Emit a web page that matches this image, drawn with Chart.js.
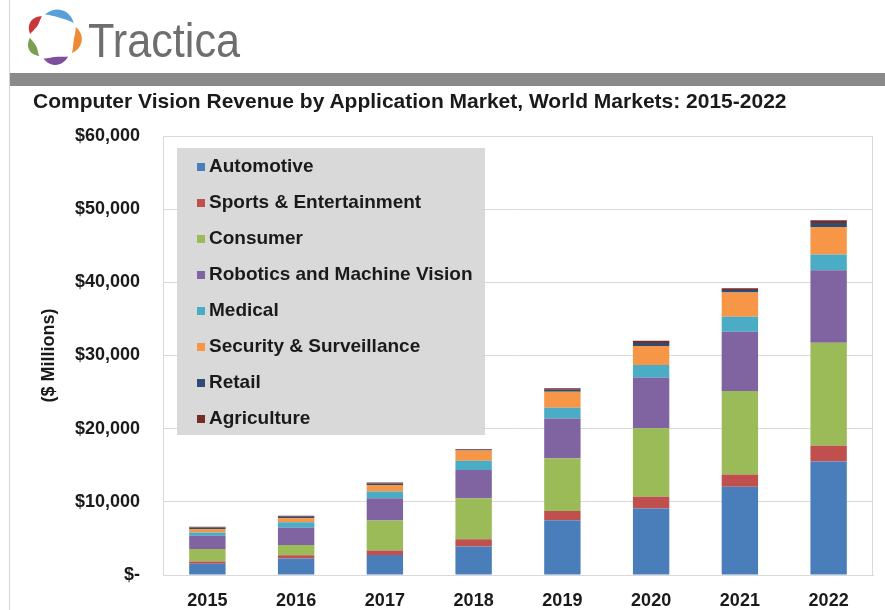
<!DOCTYPE html>
<html>
<head>
<meta charset="utf-8">
<script src="https://cdn.jsdelivr.net/npm/chart.js@4.4.1/dist/chart.umd.min.js"></script>
<style>
	html, body { margin: 0; padding: 0; background: #fff; }
	#page { position: relative; width: 885px; height: 610px; overflow: hidden; font-family: "Liberation Sans", Arial, sans-serif; }
	#edge { position: absolute; left: 9px; top: 0; width: 1px; height: 610px; background: #d4d4d4; }
	#band { position: absolute; left: 10px; top: 73px; width: 875px; height: 13px; background: #8a8a8a; }
	#brand { position: absolute; left: 88px; top: 13px; font-size: 48px; color: #6e6e6e; transform: scaleX(0.9); transform-origin: left top; }
	#logo { position: absolute; left: 0; top: 0; }
	#heading { position: absolute; left: 33px; top: 89px; font-size: 21px; font-weight: bold; color: #1a1a1a; white-space: nowrap; }
	#ChartVisionRevenue { position: absolute; left: 0; top: 0; }
</style>
</head>
<body>
<div id="page">
	<canvas id="ChartVisionRevenue" width="885" height="610"></canvas>
	<div id="edge"></div>
	<div id="band"></div>
	<svg id="logo" width="100" height="72"></svg>
	<div id="brand">Tractica</div>
	<div id="heading">Computer Vision Revenue by Application Market, World Markets: 2015-2022</div>
</div>

<script>
// --------------
// DATA ($ MILLIONS)
// --------------
const years = ["2015", "2016", "2017", "2018", "2019", "2020", "2021", "2022"];
const automotive = [1550, 2250, 2750, 3900, 7500, 9100, 12050, 15500];
const sportsEntertainment = [300, 450, 600, 1000, 1250, 1600, 1700, 2150];
const consumer = [1700, 1400, 4100, 5600, 7200, 9350, 11400, 14100];
const roboticsMachineVision = [1800, 2350, 3050, 3850, 5450, 6900, 8100, 9900];
const medical = [450, 750, 900, 1250, 1450, 1750, 2050, 2150];
const securitySurveillance = [500, 550, 900, 1400, 2200, 2600, 3300, 3750];
const retail = [180, 200, 200, 130, 260, 420, 340, 550];
const agriculture = [120, 150, 150, 100, 200, 310, 250, 370];
const yTicks = [0, 10000, 20000, 30000, 40000, 50000, 60000];

const FONT = "'Liberation Sans', Arial, sans-serif";

// LOGO: five tapered petals round a ring
const drawLogo = () => {
	const svg = document.getElementById("logo");
	const cx = 54, cy = 37, r = 24;
	const petals = [
		[-112, -35, "#5aa0d8"],
		[-25, 42, "#ee8a35"],
		[54, 116, "#7d4f9c"],
		[128, 178, "#7aa04e"],
		[187, 240, "#c8373a"],
	];
	petals.forEach(([a0, a1, color]) => {
		const outer = [], inner = [];
		for (let k = 0; k <= 16; k++) {
			const u = k / 16;
			const a = (a0 + (a1 - a0) * u) * Math.PI / 180;
			const w = 4 * Math.sin(Math.PI * u);
			outer.push([cx + (r + w) * Math.cos(a), cy + (r + w) * Math.sin(a)]);
			inner.push([cx + (r - w) * Math.cos(a), cy + (r - w) * Math.sin(a)]);
		}
		const pts = outer.concat(inner.reverse()).map((p) => p[0].toFixed(1) + "," + p[1].toFixed(1)).join(" ");
		const poly = document.createElementNS("http://www.w3.org/2000/svg", "polygon");
		poly.setAttribute("points", pts);
		poly.setAttribute("fill", color);
		svg.appendChild(poly);
	});
};
drawLogo();

// LEGEND BOX INSIDE THE PLOT
const boxLegend = {
	id: "boxLegend",
	afterDraw(chart) {
		const ctx = chart.ctx;
		ctx.save();
		ctx.fillStyle = "#d9d9d9";
		ctx.fillRect(177, 148, 308, 287);
		ctx.font = "bold 19px " + FONT;
		ctx.textBaseline = "middle";
		ctx.textAlign = "left";
		chart.data.datasets.forEach((ds, i) => {
			const y = 167 + i * 36;
			ctx.fillStyle = ds.backgroundColor;
			ctx.fillRect(197, y - 4, 8, 8);
			ctx.fillStyle = "#1a1a1a";
			ctx.fillText(ds.label, 209, y);
		});
		ctx.restore();
	},
	beforeDatasetsDraw(chart) {
		const { ctx, chartArea: a } = chart;
		ctx.save();
		ctx.strokeStyle = "#d9d9d9";
		ctx.lineWidth = 1;
		ctx.strokeRect(a.left + 0.5, a.top + 0.5, a.right - a.left - 1, a.bottom - a.top);
		ctx.restore();
	},
};

// CHART COMPUTER VISION REVENUE
const series = [
	["Automotive", automotive, "#4a7ebb"],
	["Sports & Entertainment", sportsEntertainment, "#c0504d"],
	["Consumer", consumer, "#9bbb59"],
	["Robotics and Machine Vision", roboticsMachineVision, "#8064a2"],
	["Medical", medical, "#4bacc6"],
	["Security & Surveillance", securitySurveillance, "#f79646"],
	["Retail", retail, "#2c4d75"],
	["Agriculture", agriculture, "#772c2a"],
];

const dataVisionRevenue = {
	labels: years,
	datasets: series.map(([label, values, color]) => ({
		label: label,
		data: values,
		backgroundColor: color,
		borderWidth: 0,
		categoryPercentage: 1,
		barPercentage: 0.41,
	})),
};

const configVisionRevenue = {
	type: "bar",
	data: dataVisionRevenue,
	options: {
		responsive: false,
		animation: false,
		layout: { padding: { top: 136, right: 12, bottom: 0, left: 0 } },
		plugins: {
			legend: { display: false },
			tooltip: { enabled: false },
		},
		scales: {
			x: {
				stacked: true,
				grid: { display: false, drawTicks: false },
				border: { color: "#d9d9d9" },
				ticks: { padding: 15, color: "#1a1a1a", font: { family: FONT, size: 18, weight: "bold" } },
				afterFit: (s) => { s.height = 35; },
			},
			y: {
				stacked: true,
				min: 0,
				max: 60000,
				afterBuildTicks: (s) => { s.ticks = yTicks.map((v) => ({ value: v })); },
				grid: { color: "#d9d9d9", drawTicks: false },
				border: { color: "#d9d9d9" },
				ticks: {
					padding: 23,
					color: "#1a1a1a",
					font: { family: FONT, size: 18, weight: "bold" },
					callback: (v) => (v === 0 ? "$-" : "$" + v.toLocaleString("en-US")),
				},
				title: {
					display: true,
					text: "($ Millions)",
					color: "#1a1a1a",
					font: { family: FONT, size: 18, weight: "bold" },
					padding: { top: 38, bottom: 0 },
				},
				afterFit: (s) => { s.width = 163; },
			},
		},
	},
	plugins: [boxLegend],
};

const ChartVisionRevenue = new Chart(
	document.getElementById("ChartVisionRevenue"),
	configVisionRevenue
);
</script>
</body>
</html>
